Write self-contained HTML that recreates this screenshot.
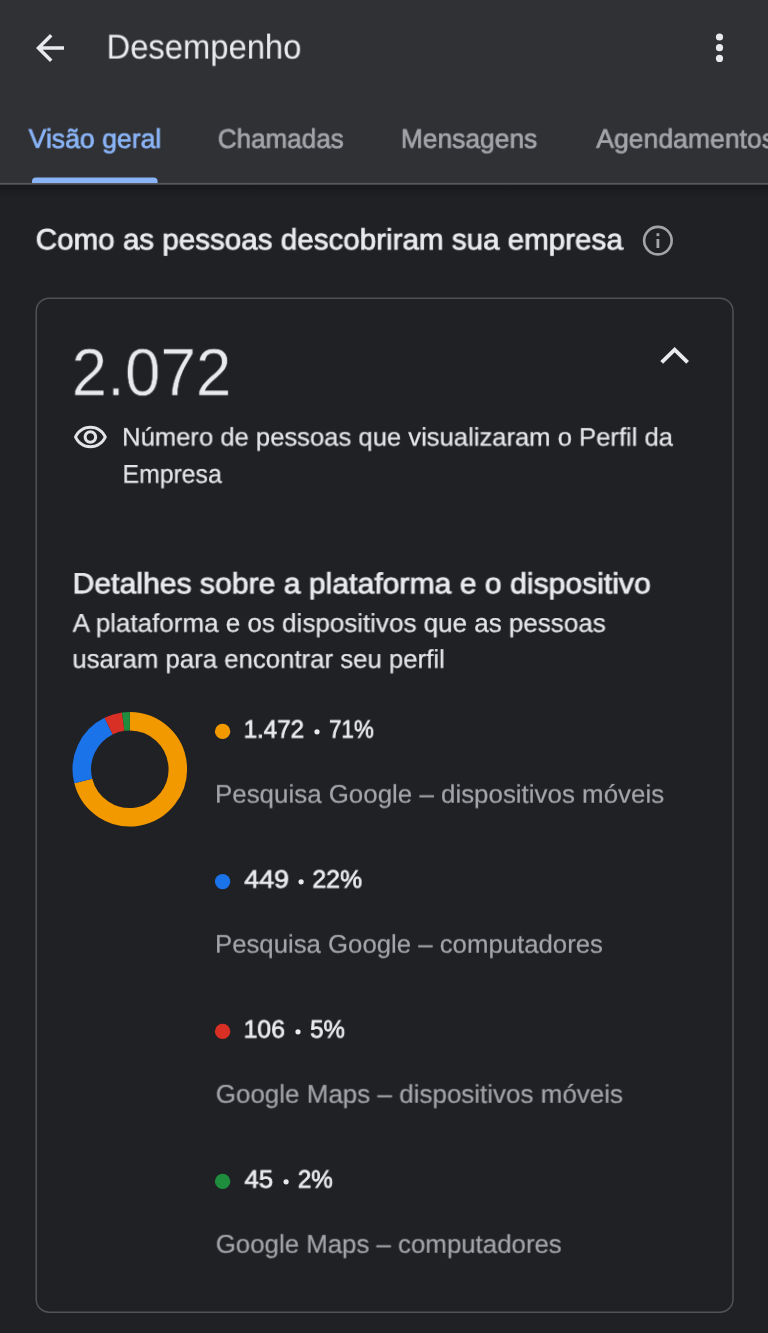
<!DOCTYPE html>
<html lang="pt-BR">
<head>
<meta charset="utf-8">
<title>Desempenho</title>
<style>
html,body{margin:0;padding:0;}
body{width:768px;height:1333px;overflow:hidden;background:#202124;position:relative;font-family:"Liberation Sans",sans-serif;}
#page{position:absolute;left:0;top:0;width:768px;height:1333px;overflow:hidden;background:#202124;}
svg.bg{position:absolute;left:0;top:0;}
.t{will-change:transform;text-rendering:geometricPrecision;position:absolute;left:0;top:0;white-space:nowrap;transform-origin:0 0;font-family:"Liberation Sans",sans-serif;font-weight:400;letter-spacing:0;}
</style>
</head>
<body>
<div id="page">
<svg class="bg" width="768" height="1333" viewBox="0 0 768 1333">
  <defs>
    <linearGradient id="sh" x1="0" y1="0" x2="0" y2="1">
      <stop offset="0" stop-color="#17181a"/>
      <stop offset="1" stop-color="#202124"/>
    </linearGradient>
  </defs>
  <!-- header -->
  <rect x="0" y="0" width="768" height="183" fill="#303134"/>
  <rect x="0" y="184.5" width="768" height="14" fill="url(#sh)"/>
  <rect x="0" y="182.8" width="768" height="1.9" fill="#56585c"/>
  <!-- tab indicator -->
  <path d="M32 183.1 V181.6 a4 4 0 0 1 4 -4 H153.6 a4 4 0 0 1 4 4 V183.1 Z" fill="#8ab4f8"/>
  <!-- back arrow -->
  <g transform="translate(29 27) scale(1.75)" fill="#e8eaed">
    <path d="M20 11H7.83l5.59-5.59L12 4l-8 8 8 8 1.41-1.41L7.83 13H20v-2z"/>
  </g>
  <!-- more vert -->
  <g fill="#e8eaed">
    <circle cx="719.5" cy="37" r="3.6"/>
    <circle cx="719.5" cy="47.7" r="3.6"/>
    <circle cx="719.5" cy="58.4" r="3.6"/>
  </g>
  <!-- info icon -->
  <g fill="#a2a4a8">
    <circle cx="657.9" cy="240.6" r="13.75" fill="none" stroke="#a2a4a8" stroke-width="2.6"/>
    <rect x="656.5" y="233.2" width="2.8" height="2.9"/>
    <rect x="656.5" y="239.0" width="2.8" height="9.0"/>
  </g>
  <!-- card -->
  <rect x="36.2" y="298.2" width="696.8" height="1014" rx="13" ry="13" fill="none" stroke="#505256" stroke-width="1.5"/>
  <!-- chevron up -->
  <polyline points="661.68,362.37 674.65,349.66 687.62,362.37" fill="none" stroke="#e8eaed" stroke-width="3.9" stroke-linejoin="miter" stroke-linecap="butt"/>
  <!-- eye -->
  <g transform="translate(72.4 419.75) scale(1.5)" fill="#e3e4e7">
    <path d="M12 6c3.790 0 7.170 2.130 8.820 5.500C19.170 14.870 15.790 17 12 17s-7.170-2.130-8.820-5.500C4.830 8.130 8.210 6 12 6m0-2C7 4 2.730 7.110 1 11.500 2.730 15.890 7 19 12 19s9.270-3.110 11-7.500C21.270 7.110 17 4 12 4zm0 5c1.380 0 2.500 1.120 2.500 2.500S13.380 14 12 14s-2.500-1.120-2.500-2.500S10.620 9 12 9m0-2c-2.480 0-4.500 2.020-4.500 4.500S9.520 16 12 16s4.500-2.020 4.500-4.500S14.480 7 12 7z"/>
  </g>
  <!-- donut -->
  <path d="M129.80 721.20 A48.0 48.0 0 1 1 83.28 781.01" fill="none" stroke="#f29900" stroke-width="18.5"/>
  <path d="M83.28 781.01 A48.0 48.0 0 0 1 108.58 726.14" fill="none" stroke="#1a73e8" stroke-width="18.5"/>
  <path d="M108.58 726.14 A48.0 48.0 0 0 1 123.27 721.65" fill="none" stroke="#d93025" stroke-width="18.5"/>
  <path d="M123.27 721.65 A48.0 48.0 0 0 1 129.80 721.20" fill="none" stroke="#1e8e3e" stroke-width="18.5"/>
  <!-- legend dots -->
  <circle cx="222.6" cy="731.4" r="7.7" fill="#f29900"/>
  <circle cx="222.6" cy="881.6" r="7.7" fill="#1a73e8"/>
  <circle cx="222.6" cy="1031.4" r="7.7" fill="#d93025"/>
  <circle cx="222.6" cy="1181.4" r="7.7" fill="#1e8e3e"/>
  <!-- bullets -->
  <g fill="#e8eaed">
    <circle cx="317" cy="731.8" r="2.6"/>
    <circle cx="301.1" cy="881.8" r="2.6"/>
    <circle cx="298" cy="1031.8" r="2.6"/>
    <circle cx="286.1" cy="1181.8" r="2.6"/>
  </g>
</svg>
<div class="t" style="font-size:34.50px;line-height:34.50px;color:#e8eaed;transform:translate3d(106.58px,30.59px,0) rotate(0.01deg) scale(0.9495,1.0004);">Desempenho</div>
<div class="t" style="font-size:27.70px;line-height:27.70px;color:#8ab4f8;transform:translate3d(28.65px,125.66px,0) rotate(0.01deg) scale(0.9619,0.9639);-webkit-text-stroke:0.7px #8ab4f8;">Visão geral</div>
<div class="t" style="font-size:27.70px;line-height:27.70px;color:#a2a4a9;transform:translate3d(217.77px,125.65px,0) rotate(0.01deg) scale(0.9410,0.9645);-webkit-text-stroke:0.7px #a2a4a9;">Chamadas</div>
<div class="t" style="font-size:27.70px;line-height:27.70px;color:#a2a4a9;transform:translate3d(400.87px,125.65px,0) rotate(0.01deg) scale(0.9531,0.9637);-webkit-text-stroke:0.7px #a2a4a9;">Mensagens</div>
<div class="t" style="font-size:27.70px;line-height:27.70px;color:#a2a4a9;transform:translate3d(596.26px,125.65px,0) rotate(0.01deg) scale(0.9600,0.9638);-webkit-text-stroke:0.7px #a2a4a9;">Agendamentos</div>
<div class="t" style="font-size:30.10px;line-height:30.10px;color:#e8eaed;transform:translate3d(35.75px,226.09px,0) rotate(0.01deg) scale(0.9832,0.9657);-webkit-text-stroke:0.8px #e8eaed;">Como as pessoas descobriram sua empresa</div>
<div class="t" style="font-size:67.00px;line-height:67.00px;color:#e8eaed;transform:translate3d(71.65px,339.36px,0) rotate(0.01deg) scale(0.9522,1.0016);-webkit-text-stroke:0.6px #202124;">2.072</div>
<div class="t" style="font-size:25.80px;line-height:25.80px;color:#e3e4e7;transform:translate3d(122.08px,425.90px,0) rotate(0.01deg) scale(0.9929,0.9801);-webkit-text-stroke:0.25px #e3e4e7;">Número de pessoas que visualizaram o Perfil da</div>
<div class="t" style="font-size:26.10px;line-height:26.10px;color:#e3e4e7;transform:translate3d(122.47px,461.06px,0) rotate(0.01deg) scale(0.9510,0.9837);-webkit-text-stroke:0.25px #e3e4e7;">Empresa</div>
<div class="t" style="font-size:30.00px;line-height:30.00px;color:#e8eaed;transform:translate3d(72.58px,570.10px,0) rotate(0.01deg) scale(1.0050,0.9614);-webkit-text-stroke:0.8px #e8eaed;">Detalhes sobre a plataforma e o dispositivo</div>
<div class="t" style="font-size:26.10px;line-height:26.10px;color:#e3e4e7;transform:translate3d(72.67px,610.06px,0) rotate(0.01deg) scale(0.9959,0.9846);-webkit-text-stroke:0.25px #e3e4e7;">A plataforma e os dispositivos que as pessoas</div>
<div class="t" style="font-size:26.10px;line-height:26.10px;color:#e3e4e7;transform:translate3d(72.40px,646.06px,0) rotate(0.01deg) scale(0.9876,0.9839);-webkit-text-stroke:0.25px #e3e4e7;">usaram para encontrar seu perfil</div>
<div class="t" style="font-size:26.20px;line-height:26.20px;color:#e8eaed;transform:translate3d(243.67px,716.73px,0) rotate(0.01deg) scale(0.9208,0.9470);-webkit-text-stroke:0.75px #e8eaed;">1.472</div>
<div class="t" style="font-size:26.20px;line-height:26.20px;color:#e8eaed;transform:translate3d(329.03px,716.74px,0) rotate(0.01deg) scale(0.8524,0.9467);-webkit-text-stroke:0.75px #e8eaed;">71%</div>
<div class="t" style="font-size:25.70px;line-height:25.70px;color:#a2a4a9;transform:translate3d(215.01px,782.85px,0) rotate(0.01deg) scale(1.0081,0.9925);-webkit-text-stroke:0.2px #a2a4a9;">Pesquisa Google – dispositivos móveis</div>
<div class="t" style="font-size:26.20px;line-height:26.20px;color:#e8eaed;transform:translate3d(244.35px,866.74px,0) rotate(0.01deg) scale(1.0214,0.9467);-webkit-text-stroke:0.75px #e8eaed;">449</div>
<div class="t" style="font-size:26.20px;line-height:26.20px;color:#e8eaed;transform:translate3d(312.41px,866.74px,0) rotate(0.01deg) scale(0.9469,0.9470);-webkit-text-stroke:0.75px #e8eaed;">22%</div>
<div class="t" style="font-size:25.70px;line-height:25.70px;color:#a2a4a9;transform:translate3d(215.01px,932.85px,0) rotate(0.01deg) scale(1.0024,0.9926);-webkit-text-stroke:0.2px #a2a4a9;">Pesquisa Google – computadores</div>
<div class="t" style="font-size:26.20px;line-height:26.20px;color:#e8eaed;transform:translate3d(243.63px,1016.72px,0) rotate(0.01deg) scale(0.9443,0.9472);-webkit-text-stroke:0.75px #e8eaed;">106</div>
<div class="t" style="font-size:26.20px;line-height:26.20px;color:#e8eaed;transform:translate3d(310.13px,1016.73px,0) rotate(0.01deg) scale(0.9214,0.9470);-webkit-text-stroke:0.75px #e8eaed;">5%</div>
<div class="t" style="font-size:25.70px;line-height:25.70px;color:#a2a4a9;transform:translate3d(215.71px,1082.80px,0) rotate(0.01deg) scale(1.0117,0.9967);-webkit-text-stroke:0.2px #a2a4a9;">Google Maps – dispositivos móveis</div>
<div class="t" style="font-size:26.20px;line-height:26.20px;color:#e8eaed;transform:translate3d(244.55px,1166.73px,0) rotate(0.01deg) scale(0.9838,0.9471);-webkit-text-stroke:0.75px #e8eaed;">45</div>
<div class="t" style="font-size:26.20px;line-height:26.20px;color:#e8eaed;transform:translate3d(297.82px,1166.72px,0) rotate(0.01deg) scale(0.9272,0.9472);-webkit-text-stroke:0.75px #e8eaed;">2%</div>
<div class="t" style="font-size:25.70px;line-height:25.70px;color:#a2a4a9;transform:translate3d(215.73px,1232.81px,0) rotate(0.01deg) scale(1.0055,0.9963);-webkit-text-stroke:0.2px #a2a4a9;">Google Maps – computadores</div>
</div>
</body>
</html>
